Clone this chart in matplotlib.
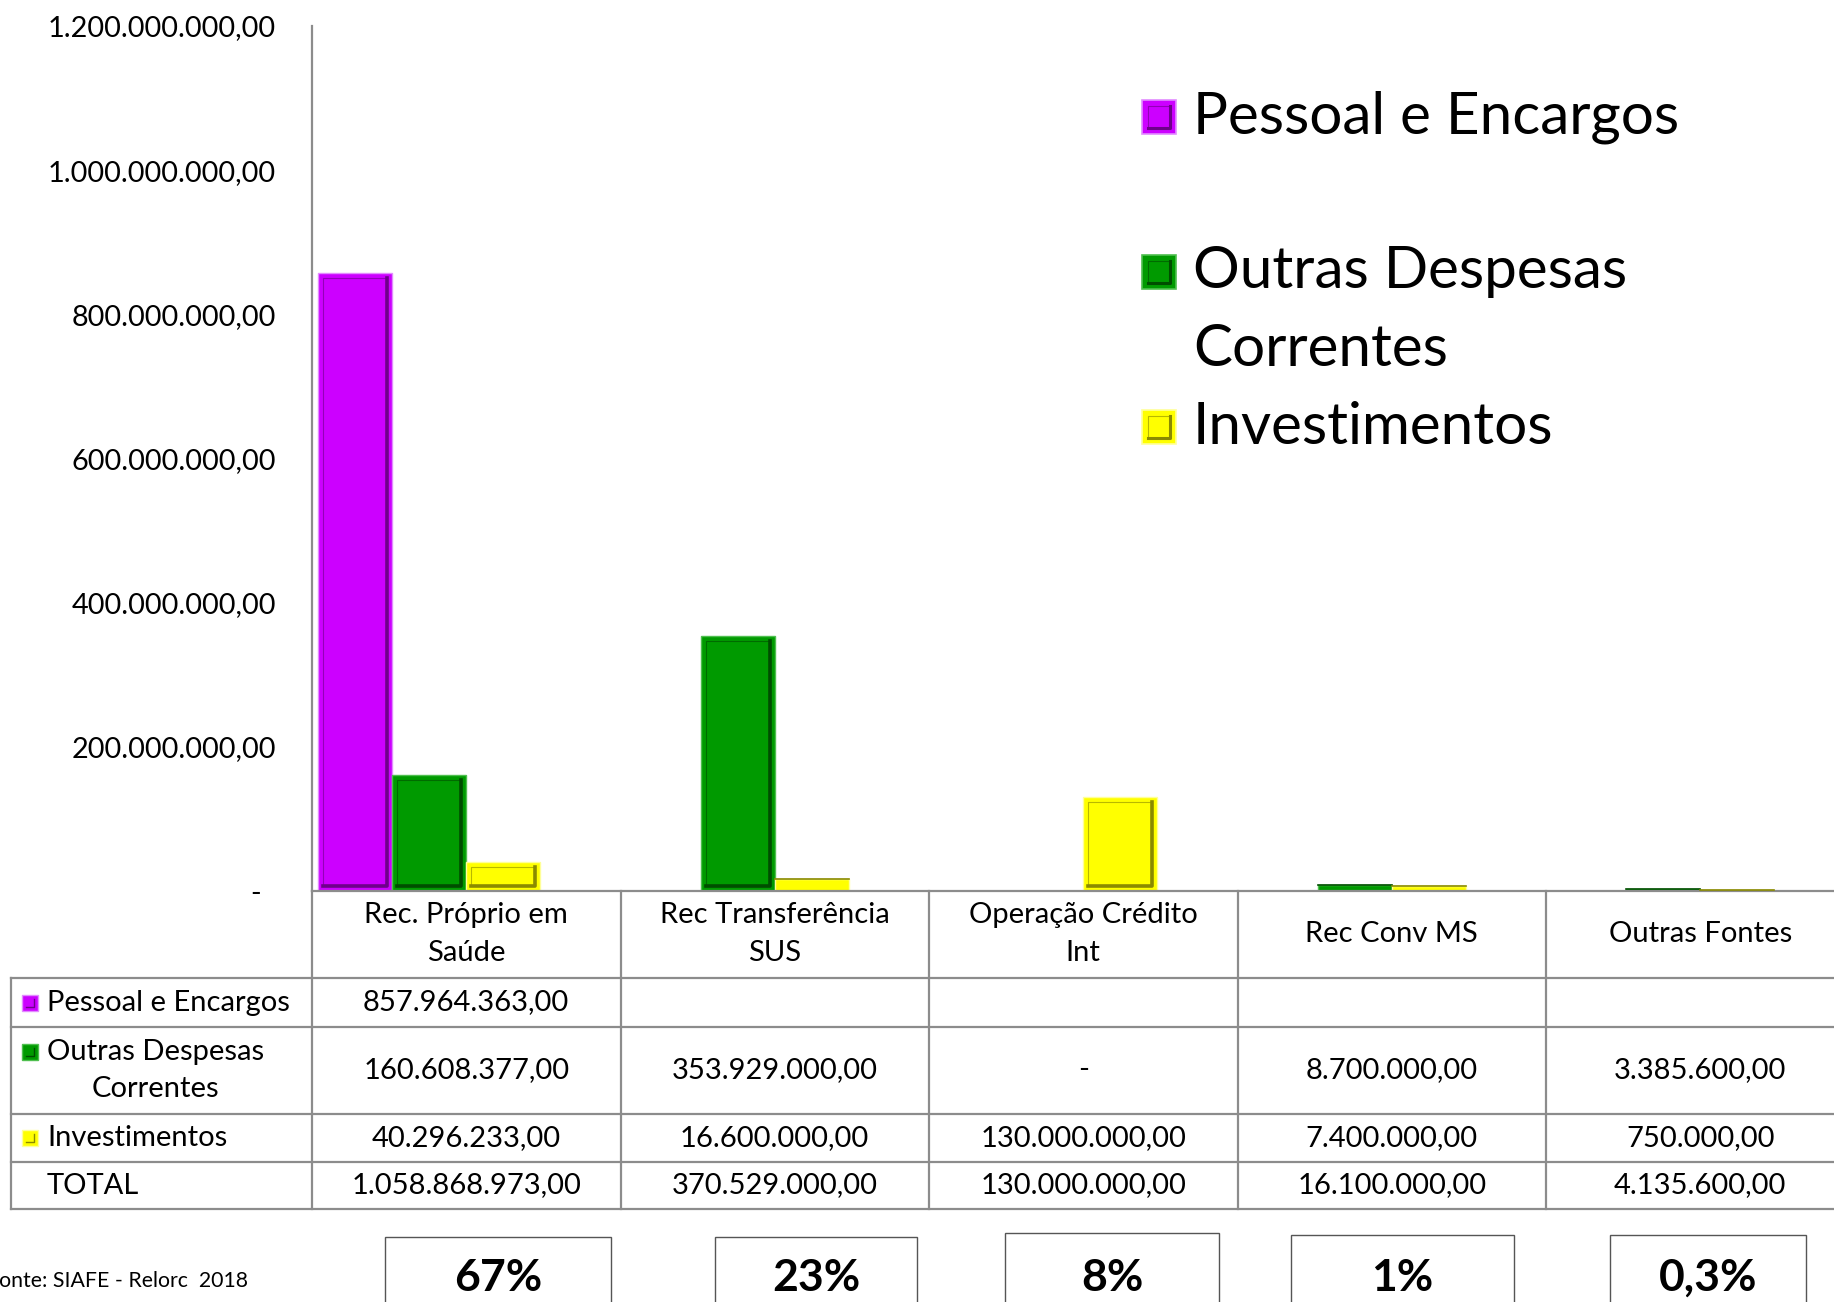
import matplotlib
matplotlib.use("Agg")
import matplotlib.pyplot as plt
import matplotlib.patches as patches
import matplotlib.transforms as mtransforms
import numpy as np

plt.rcParams['font.family'] = ['Lato', 'DejaVu Sans']

# ---- data ----
categories = ["Rec. Próprio em\nSaúde", "Rec Transferência\nSUS", "Operação Crédito\nInt",
              "Rec Conv MS", "Outras Fontes"]
series_names = ["Pessoal e Encargos", "Outras Despesas\nCorrentes", "Investimentos"]
pessoal = [857964363.00, None, None, None, None]
outras = [160608377.00, 353929000.00, 0.0, 8700000.00, 3385600.00]
investimentos = [40296233.00, 16600000.00, 130000000.00, 7400000.00, 750000.00]
totais = [1058868973.00, 370529000.00, 130000000.00, 16100000.00, 4135600.00]
percentuais = ["67%", "23%", "8%", "1%", "0,3%"]
y_ticks = [0, 200e6, 400e6, 600e6, 800e6, 1000e6, 1200e6]
fonte = "Fonte: SIAFE - Relorc  2018"

colors = ["#cc00ff", "#009a00", "#ffff00"]
darks = ["#6e008a", "#004d00", "#8a8a00"]
lights = ["#e28bff", "#4fbf4f", "#ffff99"]
grid_gray = "#8c8c8c"

W, H = 1834, 1302


def brl(v):
    if v is None:
        return ""
    if v == 0:
        return "-"
    s = f"{v:,.2f}"
    return s.replace(",", "X").replace(".", ",").replace("X", ".")


fig = plt.figure(figsize=(W / 100, H / 100), dpi=100)
# main chart axes (right edge runs past the figure like the original)
x0, x1, ytop, ybot = 312, 312 + 5 * 308.5, 26, 891
ax = fig.add_axes([x0 / W, 1 - ybot / H, (x1 - x0) / W, (ybot - ytop) / H])
ax.set_xlim(0, 5)
ax.set_ylim(0, 1.2e9)
ax.patch.set_visible(False)

# overlay in pixel coordinates for table, legend and boxes
over = fig.add_axes([0, 0, 1, 1], zorder=-1)
over.set_xlim(0, W)
over.set_ylim(H, 0)
over.axis('off')
trans = mtransforms.blended_transform_factory(ax.transData, over.transData)

# ---- bars (4 series in excel; TOTAL has no fill) ----
bw = 0.24
offsets = [-1.5 * bw, -0.5 * bw, 0.5 * bw]
xc = np.arange(5) + 0.5
px_x = 5 / (x1 - x0)
px_y = 1.2e9 / (ybot - ytop)
for k, vals in enumerate([pessoal, outras, investimentos]):
    h = np.array([0 if v is None else v for v in vals])
    left = xc + offsets[k] - bw / 2
    ax.bar(left, h, width=bw, align='edge', color=colors[k],
           edgecolor=lights[k], linewidth=1, zorder=2)
    for xl, hv in zip(left, h):
        if hv < 15 * px_y:
            if hv > 0:
                ax.plot([xl, xl + bw], [hv, hv], color=darks[k], lw=1.2, zorder=3)
            continue
        dx, dy = 5 * px_x, 5 * px_y
        ax.plot([xl + dx, xl + dx, xl + bw - dx], [dy, hv - dy, hv - dy],
                color=darks[k], lw=0.8, alpha=0.6, zorder=3)
        ax.plot([xl + bw - dx, xl + bw - dx, xl + dx], [hv - dy, dy, dy],
                color=darks[k], lw=2.6, zorder=3)

# axes styling
for s in ["top", "right"]:
    ax.spines[s].set_visible(False)
ax.spines["left"].set_color(grid_gray)
ax.spines["left"].set_linewidth(1.6)
ax.spines["bottom"].set_color(grid_gray)
ax.spines["bottom"].set_linewidth(1.6)
ax.set_xticks([])
ax.set_yticks(y_ticks)
ax.set_yticklabels(["-  "] + [brl(v) for v in y_ticks[1:]], fontsize=20.8)
ax.tick_params(axis='y', length=0, pad=26)

# ---- data table ----
row_edges = [978, 1027, 1114, 1162, 1209]
tl = 10.5
for y in row_edges:
    over.plot([tl, W], [y, y], color=grid_gray, lw=1.6)
over.plot([tl, tl], [row_edges[0], row_edges[-1]], color=grid_gray, lw=1.6)
for i in range(6):
    over.plot([i, i], [ybot, row_edges[-1]], color=grid_gray, lw=1.6, transform=trans)

for i, cat in enumerate(categories):
    over.text(xc[i], 934, cat, transform=trans, ha='center', va='center',
              fontsize=21, linespacing=1.55)

rows = [pessoal, outras, investimentos, totais]
row_labels = series_names + ["TOTAL"]
for r in range(4):
    yc = (row_edges[r] + row_edges[r + 1]) / 2
    nlines = row_labels[r].count("\n") + 1
    over.text(47, yc, row_labels[r], ha='left', va='center', fontsize=21,
              multialignment='center', linespacing=1.55)
    if r < 3:
        ym = yc - (nlines - 1) * 19
        over.add_patch(patches.Rectangle((22, ym - 8), 16, 16, facecolor=colors[r],
                                         edgecolor=lights[r], lw=1))
        over.plot([26, 34, 34], [ym + 4, ym + 4, ym - 4], color=darks[r], lw=1)
    for i, v in enumerate(rows[r]):
        over.text(xc[i], yc, brl(v), transform=trans, ha='center', va='center',
                  fontsize=21)

# ---- legend ----
leg_y = [117, 272, 427]
for k in range(3):
    over.add_patch(patches.Rectangle((1142, leg_y[k] - 17), 34, 34, facecolor=colors[k],
                                     edgecolor=lights[k], lw=1.2))
    over.plot([1148, 1148, 1170], [leg_y[k] + 11, leg_y[k] - 11, leg_y[k] - 11],
              color=darks[k], lw=0.8, alpha=0.6)
    over.plot([1170, 1170, 1148], [leg_y[k] - 11, leg_y[k] + 11, leg_y[k] + 11],
              color=darks[k], lw=2.2)
    for j, line in enumerate(series_names[k].split("\n")):
        over.text(1193, leg_y[k] + j * 78, line, ha='left', va='center', fontsize=42)

# ---- percentage boxes ----
box_x = [(385, 611), (715, 917), (1005, 1219), (1291, 1514), (1610, 1806)]
box_top = [1237, 1237, 1233, 1235, 1235]
for (bl, br), bt, txt in zip(box_x, box_top, percentuais):
    over.add_patch(patches.Rectangle((bl, bt), br - bl, 120, facecolor='white',
                                     edgecolor='#555555', lw=1))
    over.text((bl + br) / 2, 1278, txt, ha='center', va='center', fontsize=32,
              fontweight='bold')

# the source note runs off the left edge in the original as well
over.text(248, 1281, fonte, ha='right', va='center', fontsize=15.3)

fig.savefig("out.png", dpi=100)
